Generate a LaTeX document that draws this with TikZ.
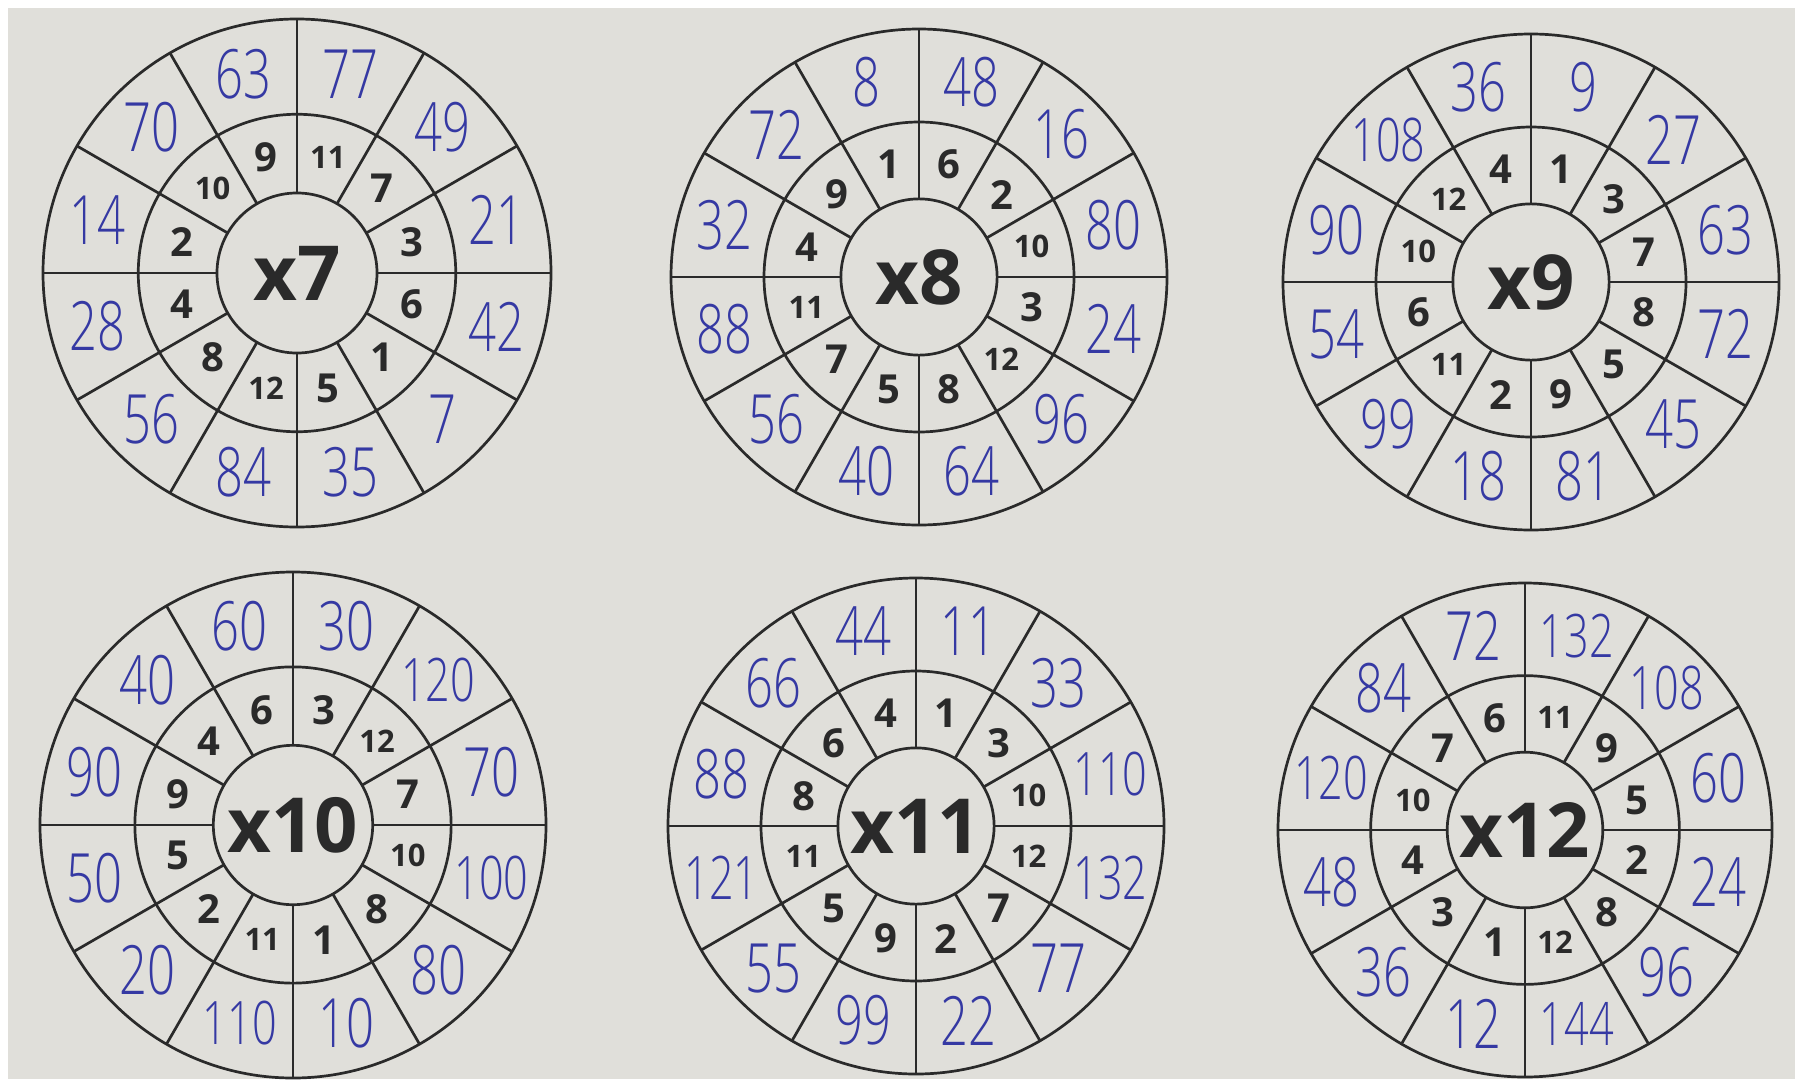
\documentclass[tikz,border=0pt]{standalone}
\usepackage{fontspec}
\setmainfont{Open Sans}
\IfFontExistsTF{Open Sans Light}{%
  \newfontfamily\handfont{Open Sans Light}[FakeStretch=0.72]}{%
  \newfontfamily\handfont{Open Sans}[FakeStretch=0.72]}
\definecolor{paper}{HTML}{E0DFDA}
\definecolor{ink}{HTML}{3539A3}
\definecolor{pen}{HTML}{2A2A2A}
\tikzset{
  ring/.style={draw=pen, line width=2.7pt},
  spoke/.style={draw=pen, line width=2.7pt},
  centre/.style={font=\bfseries\fontsize{76}{76}\selectfont, text=pen, inner sep=0pt},
  inone/.style={font=\bfseries\fontsize{40}{40}\selectfont, text=pen, inner sep=0pt},
  intwo/.style={font=\bfseries\fontsize{31}{31}\selectfont, text=pen, inner sep=0pt},
  handtwo/.style={font=\handfont\fontsize{68}{68}\selectfont, text=ink, inner sep=0pt},
  handthree/.style={font=\handfont\fontsize{60}{60}\selectfont, text=ink, inner sep=0pt},
}
\newcommand{\timeswheel}[7]{%
  \begin{scope}[shift={(#2pt,-#3pt)}]
    \pgfmathsetmacro\rmid{0.625*#4}
    \pgfmathsetmacro\rin{0.315*#4}
    \pgfmathsetmacro\rti{0.47*#4}
    \pgfmathsetmacro\rto{0.812*#4}
    \coordinate (#1) at (0,0);
    \draw[ring] (#1) circle (#4pt);
    \draw[ring] (#1) circle (\rmid pt);
    \draw[ring] (#1) circle (\rin pt);
    \foreach \a in {0,30,...,330} {\draw[spoke] (\a:\rin pt) -- (\a:#4pt);}
    \node[centre] (#1-lab) at (#1) {#5};
    \foreach \v [count=\k from 0] in {#6} {
      \pgfmathsetmacro\ang{75-30*\k}
      \ifnum\v>9\relax
        \node[intwo] (#1-in\k) at (\ang:\rti pt) {\v};
      \else
        \node[inone] (#1-in\k) at (\ang:\rti pt) {\v};
      \fi
    }
    \foreach \v [count=\k from 0] in {#7} {
      \pgfmathsetmacro\ang{75-30*\k}
      \ifnum\v>99\relax
        \node[handthree] (#1-out\k) at (\ang:\rto pt) {\v};
      \else
        \node[handtwo] (#1-out\k) at (\ang:\rto pt) {\v};
      \fi
    }
  \end{scope}}
\begin{document}
\begin{tikzpicture}
  \useasboundingbox (0,0) rectangle (1795pt,-1079pt);
  \fill[white] (0,0) rectangle (1795pt,-1079pt);
  \fill[paper] (8pt,-8pt) rectangle (1795pt,-1079pt);
  \timeswheel{w7}{297}{273}{254}{x7}{11,7,3,6,1,5,12,8,4,2,10,9}{77,49,21,42,7,35,84,56,28,14,70,63}
  \timeswheel{w8}{919}{277}{248}{x8}{6,2,10,3,12,8,5,7,11,4,9,1}{48,16,80,24,96,64,40,56,88,32,72,8}
  \timeswheel{w9}{1531}{282}{248}{x9}{1,3,7,8,5,9,2,11,6,10,12,4}{9,27,63,72,45,81,18,99,54,90,108,36}
  \timeswheel{w10}{293}{825}{253}{x10}{3,12,7,10,8,1,11,2,5,9,4,6}{30,120,70,100,80,10,110,20,50,90,40,60}
  \timeswheel{w11}{916}{826}{248}{x11}{1,3,10,12,7,2,9,5,11,8,6,4}{11,33,110,132,77,22,99,55,121,88,66,44}
  \timeswheel{w12}{1525}{830}{247}{x12}{11,9,5,2,8,12,1,3,4,10,7,6}{132,108,60,24,96,144,12,36,48,120,84,72}
\end{tikzpicture}
\end{document}
